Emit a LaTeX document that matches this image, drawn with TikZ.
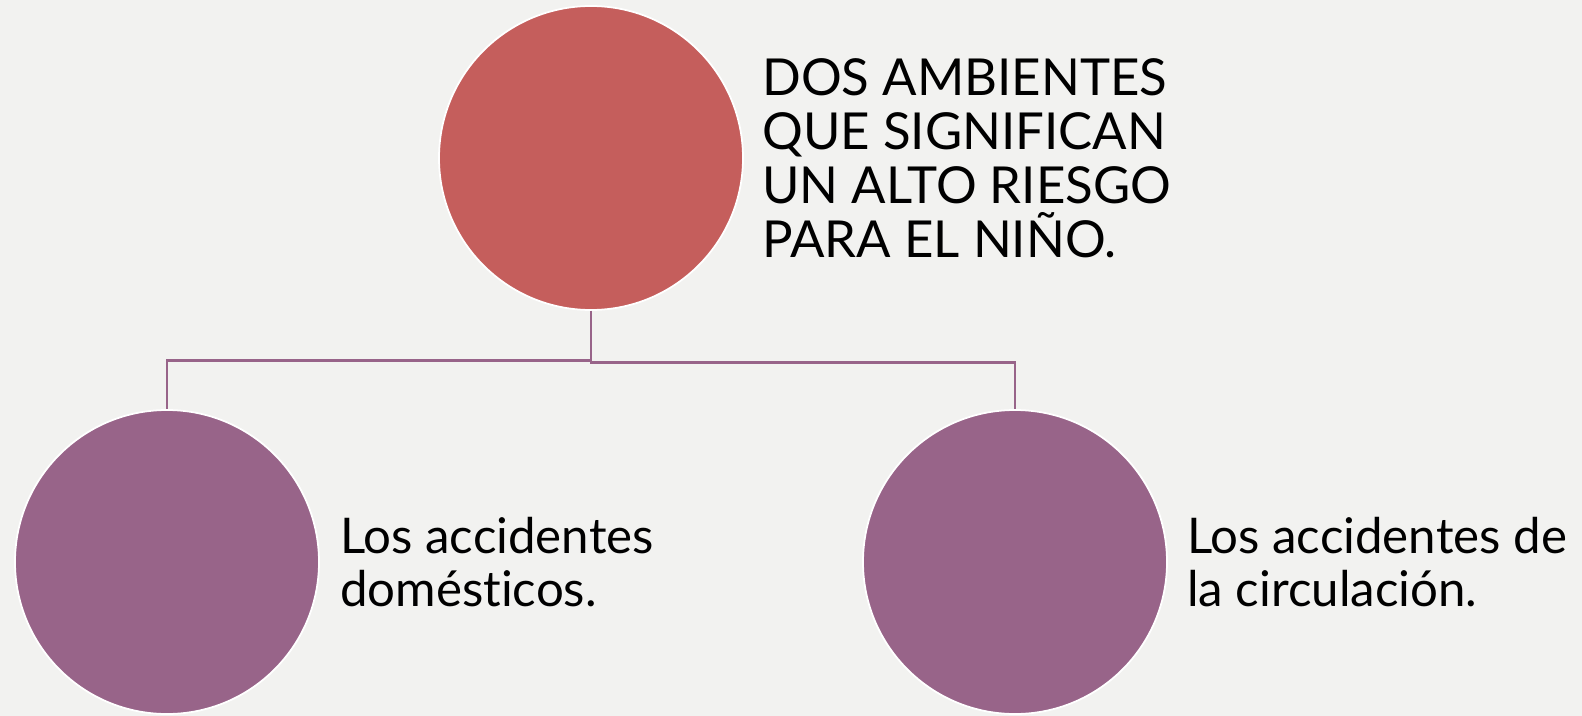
\documentclass[tikz,border=0pt]{standalone}
\usepackage{fontspec}
\setmainfont{Lato}[Ligatures={NoCommon,NoContextual}]
\usepackage{tikz}
\usetikzlibrary{positioning}
\definecolor{bgGray}{RGB}{242,242,240}
\definecolor{topRed}{RGB}{197,94,92}
\definecolor{subPurple}{RGB}{152,100,137}
\tikzset{main node/.style={circle,draw=white,line width=1pt,minimum size=6.08cm,inner sep=0pt},
  label text/.style={align=left,inner sep=0pt,font=\fontsize{29}{30.7}\selectfont},
  small text/.style={label text,font=\fontsize{28}{30.5}\selectfont},
  link/.style={draw=subPurple,line width=1.6pt}}
\begin{document}
\begin{tikzpicture}
  \fill[bgGray] (0,0) rectangle (31.64,-14.32);
  \useasboundingbox (0,0) rectangle (31.64,-14.32);

  \node[main node, fill=topRed] (top) at (11.82,-3.16) {};
  \node[main node, fill=subPurple] (dom) at (3.34,-11.24) {};
  \node[main node, fill=subPurple] (circ) at (20.30,-11.24) {};

  \node[label text] (toptext) [right = 0.36cm of top] {DOS AMBIENTES\\QUE SIGNIFICAN\\UN ALTO RIESGO\\PARA EL NIÑO.};
  \node[small text] (domtext) [right = 0.4cm of dom] {Los accidentes\\domésticos.};
  \node[small text] (circtext) [right = 0.38cm of circ] {Los accidentes de\\la circulación.};

  \draw[link] (top.south) -- ++(0,-1.0) -| (dom.north);
  \draw[link] (top.south) -- ++(0,-1.04) -| (circ.north);
\end{tikzpicture}
\end{document}
